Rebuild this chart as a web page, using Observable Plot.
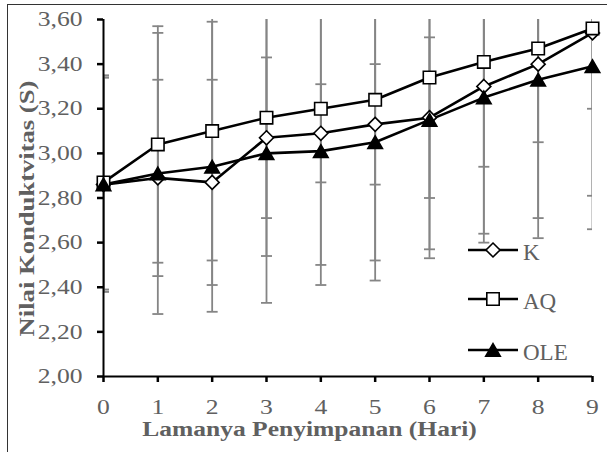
<!DOCTYPE html>
<html><head><meta charset="utf-8">
<script src="https://cdn.jsdelivr.net/npm/d3@7"></script>
<script src="https://cdn.jsdelivr.net/npm/@observablehq/plot@0.6"></script>
<style>
html,body{margin:0;padding:0;background:#fff;}
#wrap{position:relative;width:607px;height:452px;overflow:hidden;}
#frame{position:absolute;left:7px;top:4px;width:620px;height:470px;border-top:1.5px solid #333;border-left:1.5px solid #333;pointer-events:none;}
</style></head><body><div id="wrap"><div id="frame"></div></div>
<script>
// ---- data ----
const days = [0, 1, 2, 3, 4, 5, 6, 7, 8, 9];
const seriesNames = ["K", "AQ", "OLE"];
const valuesK   = [2.86, 2.89, 2.87, 3.07, 3.09, 3.13, 3.16, 3.30, 3.40, 3.54];
const valuesAQ  = [2.87, 3.04, 3.10, 3.16, 3.20, 3.24, 3.34, 3.41, 3.47, 3.56];
const valuesOLE = [2.86, 2.91, 2.94, 3.00, 3.01, 3.05, 3.15, 3.25, 3.33, 3.39];
const errK   = [0.48, 0.44, 0.46, 0.36, 0.22, 0.27, 0.36, 0.36, 0.35, 0.34];
const errAQ  = [0.48, 0.53, 0.58, 0.62, 0.70, 0.72, 0.81, 0.81, 0.85, 0.90];
const errOLE = [0.48, 0.63, 0.65, 0.67, 0.60, 0.62, 0.58, 0.61, 0.62, 0.58];
const yTicks = [2.0, 2.2, 2.4, 2.6, 2.8, 3.0, 3.2, 3.4, 3.6];
const xTicks = [0, 1, 2, 3, 4, 5, 6, 7, 8, 9];
const xTitle = "Lamanya Penyimpanan (Hari)";
const yTitle = "Nilai Konduktvitas (S)";

const valuesBy = {K: valuesK, AQ: valuesAQ, OLE: valuesOLE};
const errBy = {K: errK, AQ: errAQ, OLE: errOLE};
const rows = [];
for (const s of seriesNames) days.forEach((d, i) => rows.push({series: s, day: d, value: valuesBy[s][i], err: errBy[s][i]}));
const rowsOf = s => rows.filter(r => r.series === s);

// ---- styles ----
const textGray = "#606060";
const serif = "'Liberation Serif', 'Times New Roman', serif";
const capSymbol = {draw(ctx, size) { const w = Math.sqrt(size) / 2; ctx.moveTo(-w, 0); ctx.lineTo(w, 0); }};
const markerStyle = {
  K:   {symbol: "diamond2", r: 6.3, fill: "white", dy: 0},
  AQ:  {symbol: "square",   r: 7.0, fill: "white", dy: 0},
  OLE: {symbol: "triangle", r: 5.4, fill: "black", dy: 2}
};

const chart = Plot.plot({
  width: 607, height: 452,
  marginLeft: 103, marginRight: 15, marginTop: 19, marginBottom: 76,
  style: {fontFamily: serif, background: "transparent", overflow: "visible"},
  x: {domain: [0, 9], axis: null},
  y: {domain: [2, 3.6], axis: null},
  marks: [
    Plot.ruleX(rows, {x: "day", y1: d => d.value - d.err, y2: d => d.value + d.err, stroke: "#858585", strokeWidth: 1.8, clip: true}),
    Plot.dot(rows, {x: "day", y: d => d.value - d.err, symbol: capSymbol, r: 6.2, stroke: "#858585", fill: "none", strokeWidth: 1.8, clip: true}),
    Plot.dot(rows, {x: "day", y: d => d.value + d.err, symbol: capSymbol, r: 6.2, stroke: "#858585", fill: "none", strokeWidth: 1.8, clip: true}),
    Plot.line(rows, {x: "day", y: "value", z: "series", stroke: "black", strokeWidth: 2.6}),
    ...seriesNames.map(s => Plot.dot(rowsOf(s), {x: "day", y: "value", symbol: markerStyle[s].symbol, r: markerStyle[s].r, fill: markerStyle[s].fill, stroke: "black", strokeWidth: 1.6, dy: markerStyle[s].dy})),
    Plot.axisY({ticks: yTicks, label: null, tickFormat: d => d.toFixed(2).replace(".", ","), tickSize: 6, tickPadding: 15, stroke: "black", strokeWidth: 2.5, fill: textGray, fontSize: 21}),
    Plot.axisX({ticks: xTicks, label: null, tickFormat: d => String(d), tickSize: 6, tickPadding: 17, stroke: "black", strokeWidth: 2.5, fill: textGray, fontSize: 21}),
    Plot.ruleX([0], {stroke: "black", strokeWidth: 2}),
    Plot.ruleY([2], {stroke: "black", strokeWidth: 2}),
    Plot.text([yTitle], {frameAnchor: "left", textAnchor: "middle", rotate: -90, dx: -76, dy: 10.5, fontWeight: "bold", fontSize: 20, fill: textGray}),
    Plot.text([xTitle], {frameAnchor: "bottom", textAnchor: "middle", dx: -38.5, dy: 59, fontWeight: "bold", fontSize: 20, fill: textGray})
  ]
});
document.getElementById("wrap").prepend(chart);

const svg = d3.select(chart);
// horizontal stretch of tick labels (original figure text is widened)
svg.selectAll('g[aria-label="y-axis tick label"] text, g[aria-label="x-axis tick label"] text').each(function () {
  const t = this.getAttribute("transform") || "";
  this.setAttribute("transform", t + " scale(1.22,1)");
});
// stretch titles to their measured length in the reference
const titleLen = {[xTitle]: 335, [yTitle]: 256};
svg.selectAll("text").filter(function () { return titleLen[this.textContent] !== undefined; }).each(function () {
  const natural = this.getComputedTextLength();
  const t = this.getAttribute("transform") || "";
  this.setAttribute("transform", t + ` scale(${(titleLen[this.textContent] / natural).toFixed(3)},1)`);
});

// ---- legend (inside plot, lower right) ----
const legendX = 468, legendLineW = 50, legendRowY = [250, 299, 350];
const lg = svg.append("g").attr("aria-label", "legend").attr("text-anchor", "start");
seriesNames.forEach((s, i) => {
  const y = legendRowY[i];
  lg.append("line").attr("x1", legendX).attr("x2", legendX + legendLineW).attr("y1", y).attr("y2", y)
    .attr("stroke", "black").attr("stroke-width", 2.6);
  const symType = {diamond2: d3.symbolDiamond2, square: d3.symbolSquare, triangle: d3.symbolTriangle}[markerStyle[s].symbol];
  const r = markerStyle[s].r;
  lg.append("path").attr("d", d3.symbol(symType, r * r * Math.PI)())
    .attr("transform", `translate(${legendX + legendLineW / 2},${y + markerStyle[s].dy})`)
    .attr("fill", markerStyle[s].fill).attr("stroke", "black").attr("stroke-width", 1.6);
  lg.append("text").attr("x", legendX + legendLineW + 5).attr("y", y + 10).attr("text-anchor", "start")
    .attr("font-family", serif).attr("font-size", 23).attr("fill", textGray).text(s);
});
</script></body></html>
